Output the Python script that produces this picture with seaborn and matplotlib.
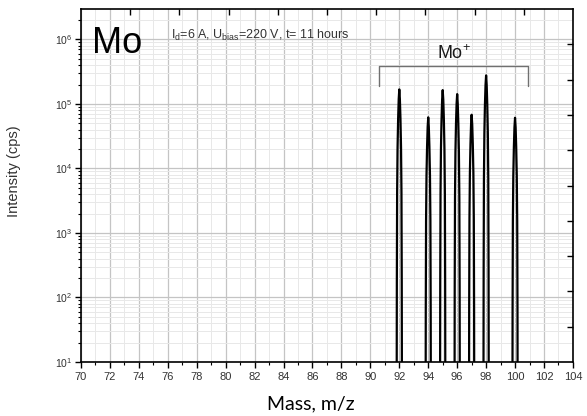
import numpy as np
import pandas as pd
import matplotlib
matplotlib.use("Agg")
import matplotlib.pyplot as plt
import seaborn as sns
from matplotlib.ticker import MultipleLocator, LogLocator, NullFormatter

# ---- data ----
masses = [92, 94, 95, 96, 97, 98, 100]
peak_cps = [1.68e5, 6.2e4, 1.64e5, 1.42e5, 6.8e4, 2.77e5, 6.1e4]
# peak profile: offset from nominal mass (amu) and drop below peak top (decades)
profile_dx = [-0.19, -0.17, -0.15, -0.12, -0.08, -0.04, 0.0, 0.04, 0.08, 0.12, 0.15, 0.17, 0.19]
profile_drop = [6.0, 3.0, 1.6, 0.9, 0.45, 0.15, 0.0, 0.15, 0.45, 0.9, 1.6, 3.0, 6.0]
xticks = list(range(70, 105, 2))
bracket_x = [90.6, 100.9]
bracket_y = [1.89e5, 3.85e5]

rows = []
for m, p in zip(masses, peak_cps):
    for dx, dr in zip(profile_dx, profile_drop):
        rows.append({"peak": m, "mass": m + dx, "cps": p / (10 ** dr)})
df = pd.DataFrame(rows)

sns.set_style("ticks")
plt.rcParams["font.family"] = ["Liberation Sans", "DejaVu Sans"]
plt.rcParams["mathtext.fontset"] = "custom"
plt.rcParams["mathtext.rm"] = "Liberation Sans"
plt.rcParams["mathtext.it"] = "Liberation Sans:italic"
plt.rcParams["mathtext.bf"] = "Liberation Sans:bold"
plt.rcParams["text.color"] = "#1a1a1a"
plt.rcParams["axes.labelcolor"] = "#1a1a1a"

fig = plt.figure(figsize=(5.87, 4.16), dpi=100)
ax = fig.add_axes([0.138, 0.130, 0.976 - 0.138, 0.978 - 0.130])

ax.set_yscale("log")
ax.set_xlim(70, 104)
ax.set_ylim(10, 2.95e6)

# grid
ax.xaxis.set_major_locator(MultipleLocator(2))
ax.xaxis.set_minor_locator(MultipleLocator(1))
ax.yaxis.set_major_locator(LogLocator(base=10, numticks=10))
ax.yaxis.set_minor_locator(LogLocator(base=10, subs=np.arange(2, 10), numticks=20))
ax.yaxis.set_minor_formatter(NullFormatter())
ax.grid(True, which="major", color="#c4c4c4", lw=0.9, zorder=0)
ax.grid(True, which="minor", color="#e8e8e8", lw=0.7, zorder=0)
ax.set_axisbelow(True)

sns.lineplot(data=df, x="mass", y="cps", units="peak", estimator=None, sort=False,
             color="black", lw=1.6, ax=ax, legend=False)
ax.set_xticks(xticks)
ax.set_xticklabels([str(t) for t in xticks])

# bracket and labels
ax.plot([bracket_x[0], bracket_x[0], bracket_x[1], bracket_x[1]],
        [bracket_y[0], bracket_y[1], bracket_y[1], bracket_y[0]],
        color="#707070", lw=1.0)
ax.text(sum(bracket_x) / 2, 6.1e5, "Mo$^{+}$", ha="center", va="center", fontsize=13)
ax.text(70.76, 10 ** 5.79, "Mo", ha="left", va="baseline", fontsize=26, color="black")
ax.text(76.2, 10 ** 6.005, r"I$_{\mathrm{d}}$=6 A, U$_{\mathrm{bias}}$=220 V, t= 11 hours",
        ha="left", va="baseline", fontsize=9, color="#333333")

ax.tick_params(axis="both", which="major", direction="out", length=4, width=1,
               labelsize=8, color="black", labelcolor="#333333", top=False, right=False)
ax.tick_params(axis="both", which="minor", direction="out", length=2.5, width=0.8,
               color="black", top=False, right=False)
ax.tick_params(axis="y", which="major", labelsize=7.5, pad=2)
for s in ax.spines.values():
    s.set_color("black")
    s.set_linewidth(1.2)

ax.set_xlabel("Mass, m/z", fontsize=14, family=["Lato", "DejaVu Sans"], color="black")
ax.set_ylabel("Intensity (cps)", fontsize=10.5, color="#333333")
ax.xaxis.set_label_coords(0.467, -0.096)
ax.yaxis.set_label_coords(-0.122, 0.54)

# top / right decorative ticks (10 equal divisions)
axt = ax.twiny()
axt.set_xlim(0, 10)
axt.set_xticks(range(1, 10))
axt.tick_params(axis="x", direction="in", length=4, width=1, color="black",
                labeltop=False, top=True)
axr = ax.twinx()
axr.set_ylim(0, 10)
axr.set_yticks(range(1, 10))
axr.tick_params(axis="y", direction="in", length=4, width=1, color="black",
                labelright=False, right=True)
for a in (axt, axr):
    a.grid(False)
    for s in a.spines.values():
        s.set_visible(False)

fig.savefig("out.png", dpi=100)
